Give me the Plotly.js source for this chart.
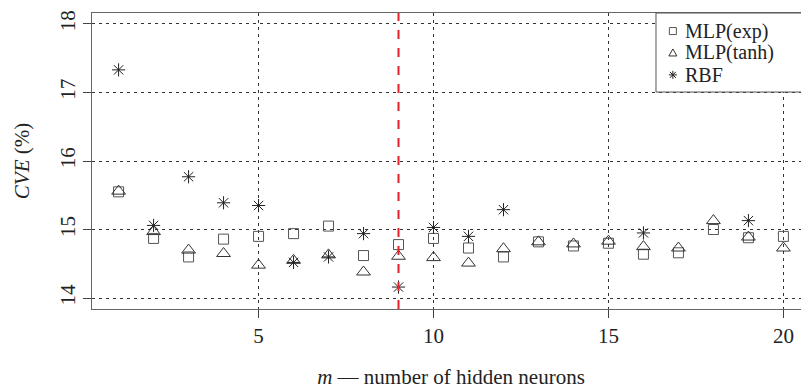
<!DOCTYPE html>
<html><head><meta charset="utf-8">
<script src="https://cdn.plot.ly/plotly-3.0.1.min.js"></script>
<style>html,body{margin:0;padding:0;overflow:hidden;background:#fff}</style>
</head><body><div id="chart"></div>
<script>
const neurons = [1,2,3,4,5,6,7,8,9,10,11,12,13,14,15,16,17,18,19,20];
const mlpExp  = [15.55,14.87,14.60,14.86,14.90,14.94,15.05,14.62,14.78,14.87,14.73,14.60,14.82,14.76,14.80,14.64,14.66,15.00,14.88,14.90];
const mlpTanh = [15.56,14.97,14.70,14.65,14.48,14.55,14.63,14.38,14.61,14.59,14.51,14.72,14.82,14.79,14.83,14.75,14.73,15.13,14.89,14.73];
const rbf     = [17.33,15.06,15.77,15.39,15.35,14.52,14.60,14.94,14.16,15.03,14.90,15.29,null,null,null,14.95,null,null,15.13,null];
const seriesNames = ['MLP(exp)', 'MLP(tanh)', 'RBF'];
const chosenM = 9;
const xTicks = [5,10,15,20];
const yTicks = [14,15,16,17,18];

const serif = 'Liberation Serif, DejaVu Serif, serif';
const colExp = '#555', colTanh = '#333', colRbf = '#222';
const traces = [
  {x: neurons, y: mlpExp, name: seriesNames[0], mode: 'markers', type: 'scatter',
   marker: {symbol: 'square-open', size: 10, color: colExp, line: {width: 1, color: colExp}}},
  {x: neurons, y: mlpTanh, name: seriesNames[1], mode: 'markers', type: 'scatter',
   marker: {symbol: 'triangle-up-open', size: 12, color: colTanh, line: {width: 1, color: colTanh}}},
  {x: neurons, y: rbf, name: seriesNames[2], mode: 'markers', type: 'scatter',
   marker: {symbol: 'asterisk-open', size: 11, color: colRbf, line: {width: 1, color: colRbf}}}
];
const gridStyle = {showgrid: true, gridcolor: '#333', griddash: '3px,4px', gridwidth: 1};

// custom legend (paper coordinates)
const legX0 = 0.7855, legY0 = 0.733;
const rowY = [0.939, 0.865, 0.791];
const symX = 0.809, textX = 0.824;
const symPaths = [
  'M-3.5,-3.5H3.5V3.5H-3.5Z',
  'M0,4L4,-3L-4,-3Z',
  'M-4,0H4M0,-4V4M-3,-3L3,3M-3,3L3,-3'
];
const symCols = [colExp, colTanh, colRbf];
const shapes = [
  {type: 'line', xref: 'x', yref: 'paper', x0: chosenM, x1: chosenM, y0: 0, y1: 1,
   line: {color: '#e8202a', width: 2, dash: 'dash'}},
  {type: 'rect', xref: 'paper', yref: 'paper', x0: legX0, x1: 1.02, y0: legY0, y1: 1,
   line: {color: '#555', width: 1}, fillcolor: 'rgba(255,255,255,1)', layer: 'above'}
];
const annotations = [];
seriesNames.forEach((nm, i) => {
  shapes.push({type: 'path', xref: 'paper', yref: 'paper', xsizemode: 'pixel', ysizemode: 'pixel',
    xanchor: symX, yanchor: rowY[i], path: symPaths[i], line: {color: symCols[i], width: 1}, layer: 'above'});
  annotations.push({xref: 'paper', yref: 'paper', x: textX, y: rowY[i], xanchor: 'left', yanchor: 'middle',
    text: nm, showarrow: false, borderpad: 0, font: {family: serif, size: 20, color: '#222'}});
});

const layout = {
  width: 810, height: 390,
  margin: {l: 92, r: 0, t: 13, b: 81},
  paper_bgcolor: '#fff', plot_bgcolor: '#fff',
  font: {family: serif, color: '#222', size: 20},
  showlegend: false,
  xaxis: Object.assign({
    range: [0.24, 20.76], tickvals: xTicks, ticktext: xTicks.map(String),
    ticks: 'outside', ticklen: 8, tickcolor: '#444', showline: true, mirror: true, linecolor: '#666', linewidth: 1,
    zeroline: false, tickfont: {family: serif, size: 21, color: '#222'},
    title: {text: '<i>m</i> — number of hidden neurons', font: {family: serif, size: 21, color: '#222'}, standoff: 22}
  }, gridStyle),
  yaxis: Object.assign({
    range: [13.84, 18.16], tickvals: yTicks, ticktext: yTicks.map(String), tickangle: -90,
    ticks: 'outside', ticklen: 8, tickcolor: '#444', showline: true, mirror: true, linecolor: '#666', linewidth: 1,
    zeroline: false, tickfont: {family: serif, size: 21, color: '#222'},
    title: {text: '<i>CVE</i> (%)', font: {family: serif, size: 21, color: '#222'}, standoff: 20}
  }, gridStyle),
  shapes: shapes,
  annotations: annotations
};
Plotly.newPlot('chart', traces, layout, {displayModeBar: false, staticPlot: true});
</script></body></html>
